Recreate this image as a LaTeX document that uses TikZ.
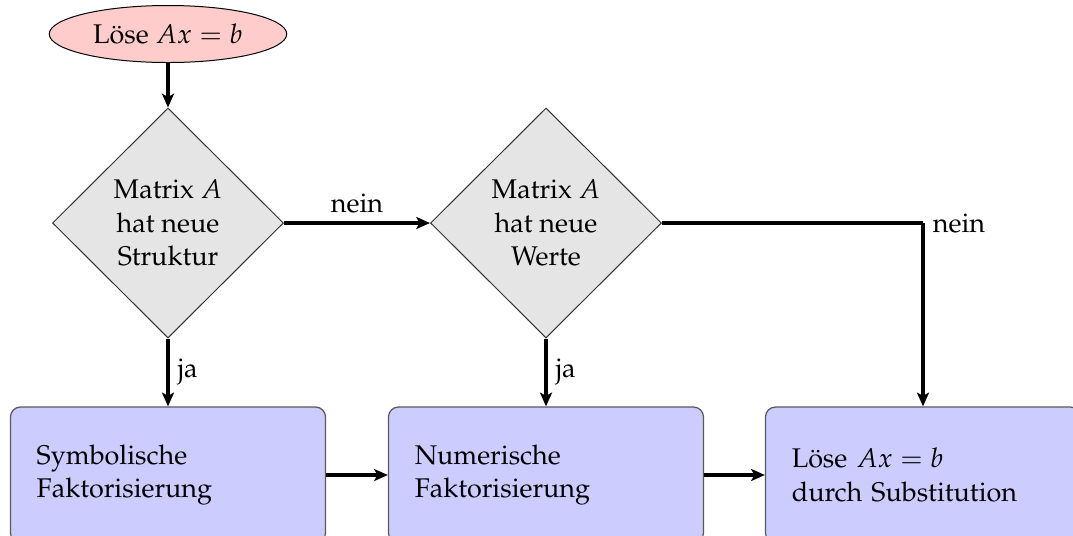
\documentclass[tikz,border=0pt]{standalone}
\usepackage[T1]{fontenc}
\usepackage{mathpazo}
\usetikzlibrary{shapes.geometric,arrows.meta}
\begin{document}
\begin{tikzpicture}[x=0.4pt,y=-0.4pt,
  font=\fontsize{10.8}{13.4}\selectfont,
  startnode/.style={ellipse,draw=black,line width=0.4pt,fill=red!20,minimum width=95pt,minimum height=22.8pt,inner sep=0pt},
  decision/.style={diamond,draw=black!80,line width=0.4pt,fill=black!10,minimum width=92.4pt,minimum height=92pt,inner sep=0pt,align=center},
  stepbox/.style={rectangle,rounded corners=4pt,draw=black!65,line width=0.5pt,fill=blue!20,minimum width=126pt,minimum height=54.4pt,text width=105pt,inner xsep=10.5pt,align=left},
  conn/.style={line width=1.25pt,-{Stealth[length=5.5pt,width=4.8pt,inset=1.3pt]}}
]
\useasboundingbox (0,0) rectangle (1073,535);
\node[startnode] (start) at (168,34) {L\"ose $Ax=b$};
\node[decision] (d1) at (168,223) {Matrix $A$\\hat neue\\Struktur};
\node[decision] (d2) at (546,223) {Matrix $A$\\hat neue\\Werte};
\node[stepbox] (b1) at (168,475) {Symbolische\\Faktorisierung};
\node[stepbox] (b2) at (546,475) {Numerische\\Faktorisierung};
\node[stepbox] (b3) at (923,475) {L\"ose $Ax=b$\\durch Substitution};
\coordinate (corner) at (923,223);
\draw[conn] (start) -- (d1);
\draw[conn] (d1.east) -- node[above] {nein} (d2.west);
\draw[line width=1.25pt] (d2.east) -- (corner) node[right] {nein};
\draw[conn] (corner) -- (b3.north);
\draw[conn] (d1.south) -- node[right] {ja} (b1.north);
\draw[conn] (d2.south) -- node[right] {ja} (b2.north);
\draw[conn] (b1.east) -- (b2.west);
\draw[conn] (b2.east) -- (b3.west);
\end{tikzpicture}
\end{document}
